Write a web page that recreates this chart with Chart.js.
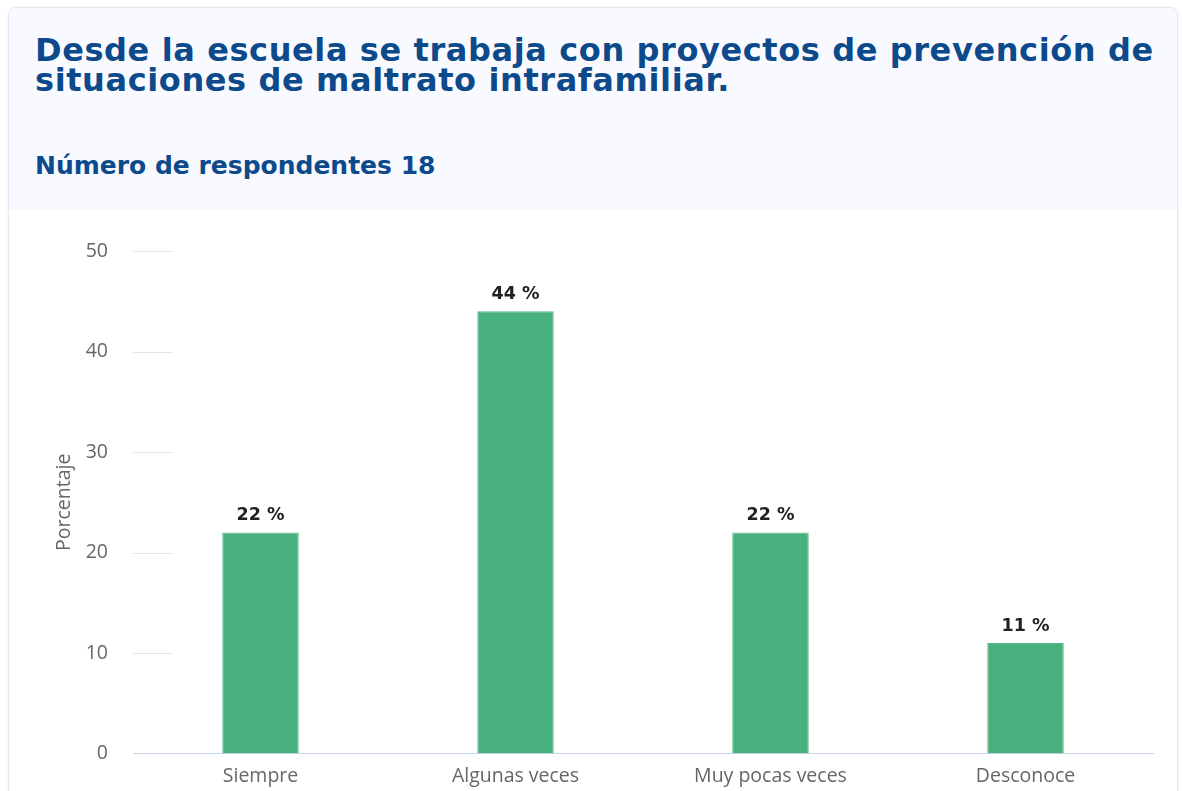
<!DOCTYPE html>
<html>
<head>
<meta charset="utf-8">
<script src="https://cdn.jsdelivr.net/npm/chart.js@4/dist/chart.umd.min.js"></script>
<style>
  html, body { margin: 0; padding: 0; background: #fff; overflow: hidden; }
  .card {
    position: absolute; left: 8px; top: 7px; width: 1168px; height: 820px;
    border: 1px solid #e3e7ee; border-radius: 8px; background: #fff;
    box-shadow: 0 0 3px rgba(0,0,0,0.06); overflow: hidden;
  }
  .head { background: #f8faff; height: 202px; padding: 0 4px 0 26px; }
  h1 {
    margin: 0; padding-top: 27px; font-family: 'DejaVu Sans', sans-serif;
    font-weight: bold; font-size: 32px; line-height: 30px; color: #0d4a8c;
    letter-spacing: 0.6px;
  }
  h2 {
    margin: 0; padding-top: 56px; font-family: 'DejaVu Sans', sans-serif;
    font-weight: bold; font-size: 25px; color: #0d4a8c;
  }
  .chart { position: absolute; left: 0; top: 202px; width: 1168px; height: 590px; }
</style>
</head>
<body>
<div class="card">
  <div class="head">
    <h1>Desde la escuela se trabaja con proyectos de prevención de situaciones de maltrato intrafamiliar.</h1>
    <h2>Número de respondentes 18</h2>
  </div>
  <div class="chart"><canvas id="c"></canvas></div>
</div>
<script>
const categories = ['Siempre', 'Algunas veces', 'Muy pocas veces', 'Desconoce'];
const percentages = [22, 44, 22, 11];
const yTicks = [0, 10, 20, 30, 40, 50];

// short grid marks at the left of the plot, like the original
const shortGrid = {
    id: 'shortGrid',
    beforeDatasetsDraw: function(chart) {
        'use strict';
        const ctx = chart.ctx;
        const y = chart.scales.y;
        const left = chart.chartArea.left;
        ctx.save();
        ctx.strokeStyle = '#e4e4e4';
        ctx.lineWidth = 1;
        for (const v of yTicks) {
            if (v === 0) continue;
            const py = Math.round(y.getPixelForValue(v)) + 0.5;
            ctx.beginPath();
            ctx.moveTo(left, py);
            ctx.lineTo(left + 40, py);
            ctx.stroke();
        }
        ctx.restore();
    },
};

const barLabels = {
    id: 'barLabels',
    afterDatasetsDraw: function(chart) {
        'use strict';
        const ctx = chart.ctx;
        const meta = chart.getDatasetMeta(0);
        ctx.save();
        ctx.font = 'bold 17.5px "DejaVu Sans", sans-serif';
        ctx.fillStyle = '#222';
        ctx.textAlign = 'center';
        ctx.textBaseline = 'bottom';
        meta.data.forEach(function(bar, i) {
            ctx.fillText(percentages[i] + ' %', bar.x, bar.y - 8);
        });
        ctx.restore();
    },
};

const axisFont = {family: '"Open Sans", sans-serif', size: 19.5};

new Chart(document.getElementById('c'), {
    type: 'bar',
    data: {
        labels: categories,
        datasets: [{
            data: percentages,
            backgroundColor: '#47b07d',
            borderColor: '#5cbb8c',
            borderWidth: 1,
            barPercentage: 0.3,
            categoryPercentage: 1,
        }],
    },
    options: {
        responsive: true,
        maintainAspectRatio: false,
        animation: false,
        layout: {padding: {left: 40, top: 41, right: 24, bottom: 1}},
        plugins: {legend: {display: false}, tooltip: {enabled: false}},
        scales: {
            x: {
                grid: {display: false, drawTicks: false},
                border: {color: '#c9d5ea', width: 1},
                ticks: {color: '#666', padding: 11, font: axisFont},
            },
            y: {
                min: 0,
                max: 50,
                afterFit: function(scale) { scale.width = 84; },
                grid: {display: false, drawTicks: false},
                border: {display: false},
                ticks: {stepSize: 10, color: '#666', padding: 25, font: axisFont},
                title: {
                    display: true,
                    text: 'Porcentaje',
                    color: '#666',
                    font: axisFont,
                },
            },
        },
    },
    plugins: [shortGrid, barLabels],
});
</script>
</body>
</html>
